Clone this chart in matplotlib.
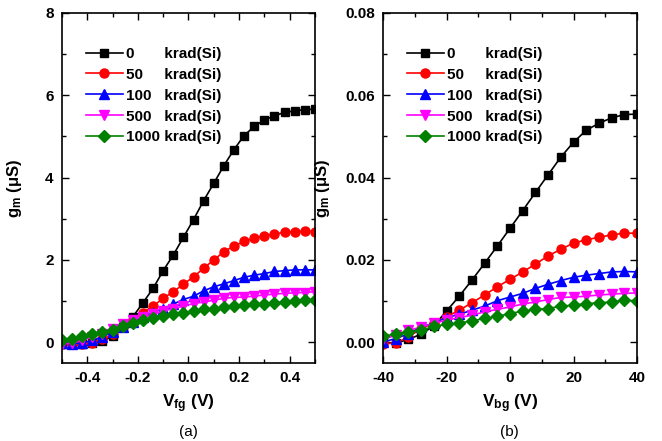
import matplotlib
matplotlib.use("Agg")
import matplotlib.pyplot as plt
from matplotlib.ticker import MultipleLocator, FormatStrFormatter

plt.rcParams["font.family"] = ["Liberation Sans", "DejaVu Sans"]
plt.rcParams["font.weight"] = "bold"
plt.rcParams["axes.unicode_minus"] = False
plt.rcParams["mathtext.fontset"] = "custom"
plt.rcParams["mathtext.rm"] = "Liberation Sans:bold"
plt.rcParams["mathtext.it"] = "Liberation Sans:bold"
plt.rcParams["mathtext.bf"] = "Liberation Sans:bold"

doses = ["0", "50", "100", "500", "1000"]

# (a) front-gate sweep, V
vfg = [-0.50, -0.46, -0.42, -0.38, -0.34, -0.30, -0.26, -0.22, -0.18, -0.14, -0.10, -0.06, -0.02,
       0.02, 0.06, 0.10, 0.14, 0.18, 0.22, 0.26, 0.30, 0.34, 0.38, 0.42, 0.46, 0.50]
gm_fg_0 = [-0.04, -0.04, -0.03, -0.02, 0.03, 0.15, 0.37, 0.62, 0.96, 1.31, 1.74, 2.12, 2.55,
           2.98, 3.44, 3.86, 4.29, 4.68, 5.02, 5.24, 5.40, 5.50, 5.58, 5.62, 5.65, 5.66]
gm_fg_50 = [-0.03, -0.05, -0.05, -0.02, 0.07, 0.20, 0.37, 0.54, 0.72, 0.88, 1.07, 1.23, 1.41,
            1.59, 1.80, 2.00, 2.20, 2.34, 2.45, 2.53, 2.59, 2.63, 2.67, 2.69, 2.70, 2.69]
gm_fg_100 = [-0.02, -0.03, -0.02, 0.05, 0.13, 0.25, 0.37, 0.50, 0.62, 0.72, 0.82, 0.93, 1.04,
             1.12, 1.25, 1.35, 1.42, 1.50, 1.58, 1.63, 1.67, 1.72, 1.74, 1.76, 1.76, 1.76]
gm_fg_500 = [-0.03, -0.02, 0.05, 0.13, 0.21, 0.33, 0.44, 0.54, 0.62, 0.68, 0.76, 0.82, 0.88,
             0.94, 0.98, 1.02, 1.07, 1.09, 1.10, 1.12, 1.15, 1.17, 1.19, 1.20, 1.21, 1.23]
gm_fg_1000 = [0.05, 0.09, 0.15, 0.20, 0.25, 0.31, 0.39, 0.47, 0.54, 0.60, 0.63, 0.68, 0.72,
              0.76, 0.80, 0.82, 0.85, 0.88, 0.90, 0.93, 0.94, 0.96, 0.98, 1.01, 1.02, 1.04]

# (b) back-gate sweep, V
vbg = [-40, -36, -32, -28, -24, -20, -16, -12, -8, -4, 0, 4, 8, 12, 16, 20, 24, 28, 32, 36, 40]
gm_bg_0 = [0.0000, -0.0002, 0.0007, 0.0020, 0.0040, 0.0076, 0.0112, 0.0151, 0.0192, 0.0234, 0.0277,
           0.0320, 0.0364, 0.0407, 0.0450, 0.0486, 0.0515, 0.0532, 0.0545, 0.0553, 0.0554]
gm_bg_50 = [-0.0003, -0.0002, 0.0013, 0.0033, 0.0047, 0.0062, 0.0078, 0.0096, 0.0115, 0.0135, 0.0153,
            0.0171, 0.0190, 0.0210, 0.0226, 0.0241, 0.0249, 0.0255, 0.0261, 0.0265, 0.0265]
gm_bg_100 = [0.0001, 0.0009, 0.0021, 0.0037, 0.0047, 0.0060, 0.0068, 0.0078, 0.0088, 0.0101, 0.0110,
             0.0119, 0.0131, 0.0141, 0.0150, 0.0158, 0.0163, 0.0167, 0.0171, 0.0172, 0.0171]
gm_bg_500 = [0.0007, 0.0017, 0.0029, 0.0037, 0.0046, 0.0054, 0.0060, 0.0066, 0.0074, 0.0080, 0.0086,
             0.0093, 0.0098, 0.0104, 0.0109, 0.0110, 0.0112, 0.0115, 0.0117, 0.0119, 0.0120]
gm_bg_1000 = [0.0015, 0.0020, 0.0025, 0.0029, 0.0039, 0.0044, 0.0047, 0.0052, 0.0058, 0.0063, 0.0070,
              0.0076, 0.0080, 0.0082, 0.0088, 0.0090, 0.0094, 0.0096, 0.0098, 0.0102, 0.0101]

colors = ["black", "#ff0000", "#0000ff", "#ff00ff", "#008000"]
markers = ["s", "o", "^", "v", "D"]
msizes = [5.5, 6.5, 7, 7, 6]
# pad so that "krad(Si)" lines up (digit = 2 spaces in Liberation Sans)
pads = {1: 7, 2: 5, 3: 3, 4: 1}


def _draw(ax, x, series, ylabel_x):
    for dose, y, c, m, ms in zip(doses, series, colors, markers, msizes):
        label = dose + " " * pads[len(dose)] + "krad(Si)"
        ax.plot(x, y, color=c, marker=m, markersize=ms, linewidth=1.2, label=label)
    ax.tick_params(which="both", direction="in", top=True, right=True, labelsize=11, width=1.0, pad=6)
    ax.tick_params(which="major", length=5)
    ax.tick_params(which="minor", length=3)
    for s in ax.spines.values():
        s.set_linewidth(1.2)
    ax.set_ylabel("g$_{\\mathrm{m}}$ (\u03bcS)", fontsize=12, fontweight="bold")
    ax.yaxis.set_label_coords(ylabel_x, 0.5)
    ax.legend(loc="upper left", frameon=False, fontsize=11, handlelength=2.4, handletextpad=0.25,
              labelspacing=0.45, borderaxespad=0.0, bbox_to_anchor=(0.07, 0.92))


fig = plt.figure(figsize=(6.62, 4.41), dpi=100)
ax1 = fig.add_axes([0.0937, 0.177, 0.382, 0.794])
ax2 = fig.add_axes([0.5785, 0.177, 0.384, 0.794])

_draw(ax1, vfg, [gm_fg_0, gm_fg_50, gm_fg_100, gm_fg_500, gm_fg_1000], -0.15)
ax1.set_xlim(-0.5, 0.5)
ax1.set_ylim(-0.5, 8)
ax1.xaxis.set_major_locator(MultipleLocator(0.2))
ax1.xaxis.set_minor_locator(MultipleLocator(0.1))
ax1.xaxis.set_major_formatter(FormatStrFormatter("%.1f"))
ax1.yaxis.set_major_locator(MultipleLocator(2))
ax1.yaxis.set_minor_locator(MultipleLocator(1))
ax1.set_xlabel("V$_{\\mathrm{fg}}$ (V)", fontsize=12.5, fontweight="bold", labelpad=5)

_draw(ax2, vbg, [gm_bg_0, gm_bg_50, gm_bg_100, gm_bg_500, gm_bg_1000], -0.20)
ax2.set_xlim(-40, 40)
ax2.set_ylim(-0.005, 0.08)
ax2.xaxis.set_major_locator(MultipleLocator(20))
ax2.xaxis.set_minor_locator(MultipleLocator(10))
ax2.yaxis.set_major_locator(MultipleLocator(0.02))
ax2.yaxis.set_minor_locator(MultipleLocator(0.01))
ax2.yaxis.set_major_formatter(FormatStrFormatter("%.2f"))
ax2.set_xlabel("V$_{\\mathrm{bg}}$ (V)", fontsize=12.5, fontweight="bold", labelpad=5)

fig.text(0.2845, 0.021, "(a)", ha="center", va="center", fontsize=11, fontweight="normal")
fig.text(0.770, 0.021, "(b)", ha="center", va="center", fontsize=11, fontweight="normal")

fig.savefig("out.png", dpi=100)
